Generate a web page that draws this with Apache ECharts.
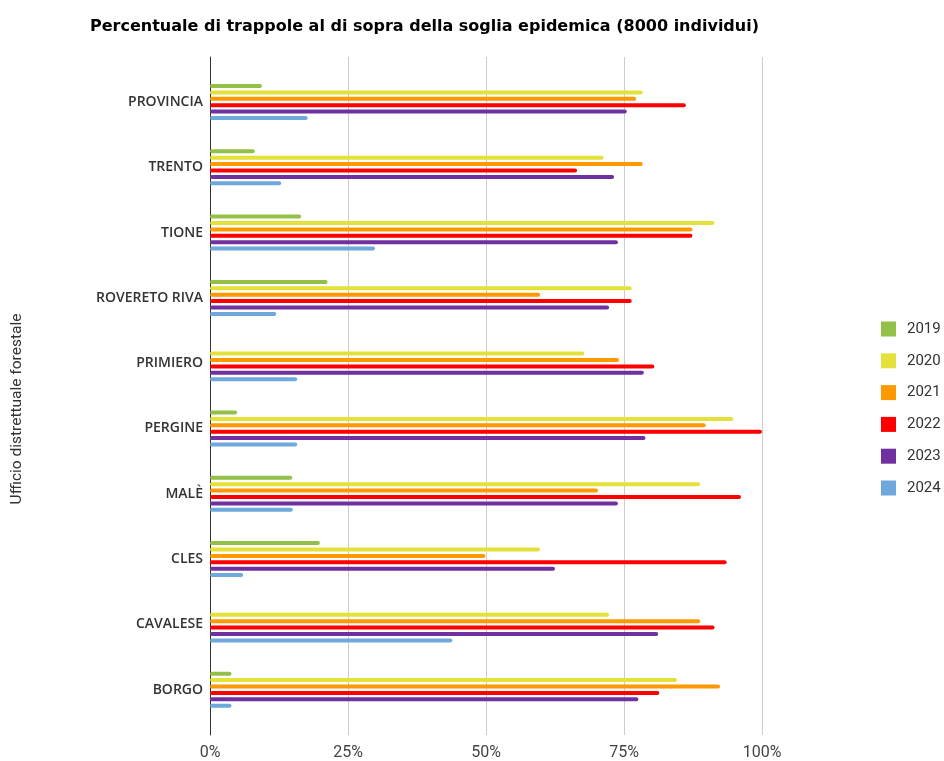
<!DOCTYPE html>
<html>
<head>
<meta charset="utf-8">
<script src="https://cdn.jsdelivr.net/npm/echarts@6/dist/echarts.min.js"></script>
<style>html,body{margin:0;padding:0;background:#fff}#c{width:944px;height:761px}</style>
</head>
<body>
<div id="c"></div>
<script>
const categories = ['PROVINCIA','TRENTO','TIONE','ROVERETO RIVA','PRIMIERO','PERGINE','MALÈ','CLES','CAVALESE','BORGO'];
const years = ['2019','2020','2021','2022','2023','2024'];
const v2019 = [9.4, 8.1, 16.5, 21.3, 0, 4.9, 14.9, 19.9, 0, 3.9];
const v2020 = [78.4, 71.3, 91.4, 76.4, 67.8, 94.8, 88.8, 59.8, 72.3, 84.6];
const v2021 = [77.2, 78.4, 87.4, 59.8, 74.1, 89.8, 70.3, 49.9, 88.8, 92.4];
const v2022 = [86.2, 66.5, 87.4, 76.4, 80.5, 100, 96.2, 93.6, 91.4, 81.4];
const v2023 = [75.5, 73.2, 73.9, 72.3, 78.6, 78.9, 73.9, 62.5, 81.2, 77.6];
const v2024 = [17.7, 12.9, 29.9, 12.0, 15.8, 15.8, 15.0, 6.0, 43.9, 3.9];
const xTicks = [0, 25, 50, 75, 100];
const colors = ['#93c047', '#e4e23a', '#ff9900', '#ff0000', '#7030a0', '#6fa8dc'];
const seriesValues = [v2019, v2020, v2021, v2022, v2023, v2024];

const chart = echarts.init(document.getElementById('c'), null, {renderer: 'canvas'});
const labelFont = {fontFamily: 'Open Sans', fontSize: 14, fontWeight: 600, color: '#333'};
chart.setOption({
  animation: false,
  title: {
    text: 'Percentuale di trappole al di sopra della soglia epidemica (8000 individui)',
    left: 85, top: 14,
    textStyle: {fontFamily: 'DejaVu Sans', fontSize: 16, fontWeight: 'bold', color: '#000'}
  },
  legend: {
    orient: 'vertical', left: 876, top: 316.5, itemWidth: 15, itemHeight: 15, itemGap: 16.8,
    icon: 'rect',
    textStyle: {fontFamily: 'Roboto', fontSize: 15, color: '#333', padding: [0, 0, 0, 6]},
    data: years
  },
  grid: [
    {left: 210, right: 182, top: 57, bottom: 26},
    {left: 210, right: 182, top: 69.35, height: 653}
  ],
  xAxis: [
    {gridIndex: 0, type: 'value', min: 0, max: 100, interval: 25,
     axisLine: {show: false}, axisTick: {show: false},
     splitLine: {lineStyle: {color: '#cccccc', width: 1}},
     axisLabel: {formatter: v => xTicks.includes(v) ? v + '%' : '', fontFamily: 'Roboto', fontSize: 16, color: '#444', margin: 10}},
    {gridIndex: 1, type: 'value', min: 0, max: 100, show: false}
  ],
  yAxis: [
    {gridIndex: 0, type: 'category', data: [''], axisLine: {show: true, lineStyle: {color: '#333'}},
     axisTick: {show: false}, axisLabel: {show: false}, splitLine: {show: false}},
    {gridIndex: 1, type: 'category', data: categories, inverse: true,
     axisLine: {show: false}, axisTick: {show: false},
     axisLabel: Object.assign({margin: 7}, labelFont)}
  ],
  graphic: [{
    type: 'text', x: 17, y: 409, rotation: Math.PI / 2,
    style: {text: 'Ufficio distrettuale forestale', fontFamily: 'Roboto', fontSize: 15.5, fill: '#333', align: 'center', verticalAlign: 'middle'}
  }],
  series: years.map((y, i) => ({
    name: y, type: 'bar', xAxisIndex: 1, yAxisIndex: 1,
    data: seriesValues[i], barWidth: 4, barGap: '60%',
    itemStyle: {color: colors[i], borderRadius: 2}
  }))
});
</script>
</body>
</html>
